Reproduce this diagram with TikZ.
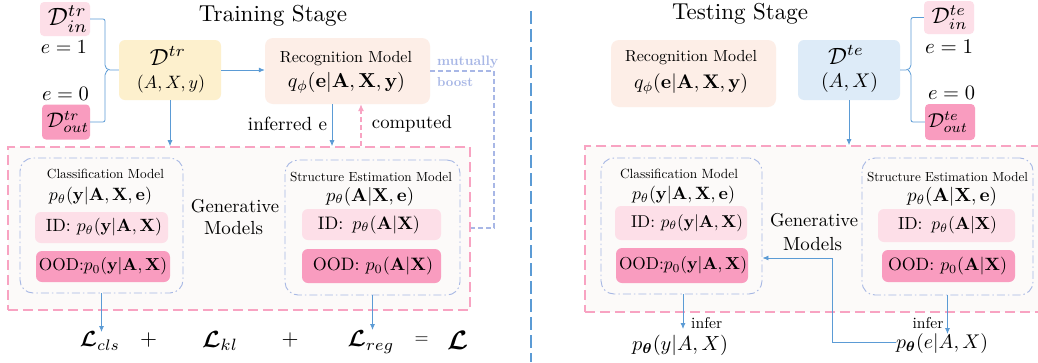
\documentclass[tikz,border=0pt]{standalone}
\usepackage{amsmath,bm,graphicx}
\usepackage{fontspec}
\setmainfont{lmroman10-regular.otf}[BoldFont=lmroman10-bold.otf, ItalicFont=lmroman10-italic.otf, BoldItalicFont=lmroman10-bolditalic.otf]
\usetikzlibrary{arrows.meta}
\newcommand{\fw}[2]{\resizebox{#1pt}{!}{#2}}
\definecolor{lpink}{HTML}{FDDFE8}
\definecolor{dpink}{HTML}{F99CBF}
\definecolor{ylw}{HTML}{FDF0CD}
\definecolor{peach}{HTML}{FDEEE7}
\definecolor{lblue}{HTML}{DDEBF8}
\definecolor{pborder}{HTML}{F8A3C2}
\definecolor{gborder}{HTML}{A6B7E4}
\definecolor{arrc}{HTML}{5B9BD5}
\definecolor{bgfill}{HTML}{FCFAF9}
\definecolor{boostc}{HTML}{A8B7E6}
\tikzset{
  fbox/.style={rounded corners=6pt, draw=none, inner sep=0pt},
  grp/.style={rounded corners=13pt, draw=gborder, line width=0.9pt, dash pattern=on 8pt off 3pt on 1.5pt off 3pt},
  bigbox/.style={draw=pborder, fill=bgfill, line width=1.6pt, dash pattern=on 10pt off 5pt, inner sep=0pt},
  txt/.style={inner sep=0pt},
  arr/.style={draw=arrc, line width=0.8pt, -{Latex[length=6pt,width=5pt]}},
  ln/.style={draw=arrc, line width=0.8pt},
  parr/.style={draw=pborder, line width=1.1pt, dash pattern=on 5pt off 3pt, -{Latex[length=7pt,width=6pt]}},
  blin/.style={draw=boostc, line width=1.1pt, dash pattern=on 5pt off 3pt},
}
\begin{document}
\begin{tikzpicture}[x=1pt,y=-1pt]
\clip (0,0) rectangle (1038,362);
\fill[white] (0,0) rectangle (1038,362);

% divider
\draw[draw=arrc, line width=2pt, dash pattern=on 13pt off 5pt] (531,11) -- (531,362);

%%%%%%%%%%%%%%%% LEFT: TRAINING
\node[txt] (title1) at (273,16) {\fw{148}{Training Stage}};

\node[fbox, fill=lpink, minimum width=50, minimum height=34, rounded corners=4pt] (din1) at (65,19) {};
\node[txt] (din1t) at (68,19) {\fw{40}{$\mathcal{D}^{tr}_{in}$}};
\node[txt] (e11) at (64,47) {\fw{46}{$e=1$}};
\node[txt] (e01) at (65.5,94) {\fw{47}{$e=0$}};
\node[fbox, fill=dpink, minimum width=48, minimum height=35, rounded corners=4pt] (dout1) at (66,122) {};
\node[txt] (dout1t) at (68,122) {\fw{42}{$\mathcal{D}^{tr}_{out}$}};

\node[fbox, fill=ylw, minimum width=102, minimum height=60] (dtr) at (170,70) {};
\node[txt] (dtrt) at (168,56) {\fw{36}{$\mathcal{D}^{tr}$}};
\node[txt] (dtrm) at (171,84.5) {\fw{68}{$(A,X,y)$}};

\node[fbox, fill=peach, minimum width=165, minimum height=66, rounded corners=8pt] (rec1) at (347.5,71) {};
\node[txt] (rec1t) at (346,59) {\fw{132}{Recognition Model}};
\node[txt] (rec1m) at (346.5,83) {\fw{117}{$q_\phi(\mathbf{e}|\mathbf{A},\mathbf{X},\mathbf{y})$}};

\node[txt, anchor=west, text=boostc] (mb1) at (437,62) {\fw{61}{\bfseries mutually}};
\node[txt, anchor=west, text=boostc] (mb2) at (437,82) {\fw{36}{\bfseries boost}};

\node[txt] (inf1) at (287.5,124) {\fw{79}{inferred e}};
\node[txt] (comp1) at (412,124) {\fw{80}{computed}};

\node[bigbox, minimum width=462, minimum height=163] (big1) at (239,228.5) {};

\node[grp, minimum width=163, minimum height=135] (cls1) at (101.5,225.5) {};
\node[txt] (cls1t) at (105.5,174) {\fw{117}{Classification Model}};
\node[txt] (cls1m) at (100.5,196.5) {\fw{103}{$p_\theta(\mathbf{y}|\mathbf{A},\mathbf{X},\mathbf{e})$}};
\node[fbox, fill=lpink, minimum width=133, minimum height=31] (cls1id) at (101.5,227.5) {};
\node[txt] (cls1idt) at (104,227.5) {\fw{116}{ID: $p_\theta(\mathbf{y}|\mathbf{A},\mathbf{X})$}};
\node[fbox, fill=dpink, minimum width=134, minimum height=31] (cls1ood) at (103,266.5) {};
\node[txt] (cls1oodt) at (103,266.5) {\fw{128}{OOD:$p_0(\mathbf{y}|\mathbf{A},\mathbf{X})$}};

\node[txt] (gen1a) at (235,206) {\fw{88}{Generative}};
\node[txt] (gen1b) at (233.5,228) {\fw{59}{Models}};

\node[grp, minimum width=175, minimum height=135] (str1) at (372.5,227.5) {};
\node[txt] (str1t) at (371,177) {\fw{162}{Structure Estimation Model}};
\node[txt] (str1m) at (370,196.5) {\fw{88}{$p_\theta(\mathbf{A}|\mathbf{X},\mathbf{e})$}};
\node[fbox, fill=lpink, minimum width=139, minimum height=31] (str1id) at (371.5,224.5) {};
\node[txt] (str1idt) at (369,224.5) {\fw{102}{ID:\enspace$p_\theta(\mathbf{A}|\mathbf{X})$}};
\node[fbox, fill=dpink, minimum width=139, minimum height=34] (str1ood) at (371.5,266) {};
\node[txt] (str1oodt) at (373,266) {\fw{120}{OOD: $p_0(\mathbf{A}|\mathbf{X})$}};

\node[txt] (lcls) at (100,341) {\fw{40}{$\bm{\mathcal{L}}_{cls}$}};
\node[txt] (plus1) at (148.5,340) {\fw{17}{$+$}};
\node[txt] (lkl) at (220,341) {\fw{36}{$\bm{\mathcal{L}}_{kl}$}};
\node[txt] (plus2) at (290,340) {\fw{17}{$+$}};
\node[txt] (lreg) at (371,342) {\fw{47}{$\bm{\mathcal{L}}_{reg}$}};
\node[txt] (eq1) at (421.5,340) {\fw{14}{$=$}};
\node[txt] (lall) at (457.5,340) {\fw{21}{$\bm{\mathcal{L}}$}};

% connectors left
\draw[ln, rounded corners=2pt] (din1.east) -| (105,67) -- (108,70) -- (dtr.west);
\draw[ln, rounded corners=2pt] (dout1.east) -| (105,73) -- (108,70);
\draw[arr] (dtr.east) -- (dtr.east -| rec1.west);
\draw[arr] (dtr.south) -- (dtr.south |- big1.north);
\draw[arr] ([xshift=-15.5pt]rec1.south) -- ([xshift=-15.5pt]rec1.south |- big1.north);
\draw[parr] ([xshift=13.5pt]rec1.south |- big1.north) -- ([xshift=13.5pt]rec1.south);
\coordinate (mbc) at (494,228);
\draw[blin] (rec1.east) -| (mbc) -- (mbc -| big1.east);
\draw[arr] (cls1.south) -- (cls1.south |- 0,332);
\draw[arr] (str1.south) -- (str1.south |- 0,330);

%%%%%%%%%%%%%%%% RIGHT: TESTING
\node[txt] (title2) at (740,14) {\fw{136}{Testing Stage}};

\node[fbox, fill=peach, minimum width=165, minimum height=67, rounded corners=8pt] (rec2) at (693.5,73.5) {};
\node[txt] (rec2t) at (691,58) {\fw{132}{Recognition Model}};
\node[txt] (rec2m) at (691,84) {\fw{114}{$q_\phi(\mathbf{e}|\mathbf{A},\mathbf{X},\mathbf{y})$}};

\node[fbox, fill=lblue, minimum width=102, minimum height=60] (dte) at (849,70) {};
\node[txt] (dtet) at (846,55) {\fw{36}{$\mathcal{D}^{te}$}};
\node[txt] (dtem) at (849.5,82.5) {\fw{57}{$(A,X)$}};

\node[fbox, fill=lpink, minimum width=50, minimum height=33, rounded corners=4pt] (din2) at (949,17.5) {};
\node[txt] (din2t) at (949.5,17.5) {\fw{36}{$\mathcal{D}^{te}_{in}$}};
\node[txt] (e12) at (949,46.5) {\fw{48}{$e=1$}};
\node[txt] (e02) at (951.5,93) {\fw{47}{$e=0$}};
\node[fbox, fill=dpink, minimum width=50, minimum height=36, rounded corners=4pt] (dout2) at (950,122) {};
\node[txt] (dout2t) at (948,122) {\fw{40}{$\mathcal{D}^{te}_{out}$}};

\node[bigbox, minimum width=460, minimum height=166] (big2) at (815,229) {};

\node[grp, minimum width=161, minimum height=136] (cls2) at (681.5,226) {};
\node[txt] (cls2t) at (679,174) {\fw{118}{Classification Model}};
\node[txt] (cls2m) at (683.5,195) {\fw{103}{$p_\theta(\mathbf{y}|\mathbf{A},\mathbf{X},\mathbf{e})$}};
\node[fbox, fill=lpink, minimum width=132, minimum height=34] (cls2id) at (681,223) {};
\node[txt] (cls2idt) at (687,223) {\fw{112}{ID: $p_\theta(\mathbf{y}|\mathbf{A},\mathbf{X})$}};
\node[fbox, fill=dpink, minimum width=132, minimum height=35] (cls2ood) at (682,265.5) {};
\node[txt] (cls2oodt) at (683,265.5) {\fw{128}{OOD:$p_0(\mathbf{y}|\mathbf{A},\mathbf{X})$}};

\node[txt] (gen2a) at (814,220.5) {\fw{88}{Generative}};
\node[txt] (gen2b) at (812.5,244) {\fw{59}{Models}};

\node[grp, minimum width=171, minimum height=137] (str2) at (947.5,226.5) {};
\node[txt] (str2t) at (947.5,177) {\fw{161}{Structure Estimation Model}};
\node[txt] (str2m) at (952,196.5) {\fw{90}{$p_\theta(\mathbf{A}|\mathbf{X},\mathbf{e})$}};
\node[fbox, fill=lpink, minimum width=137, minimum height=33] (str2id) at (946.5,225.5) {};
\node[txt] (str2idt) at (947.5,225.5) {\fw{99}{ID:\enspace$p_\theta(\mathbf{A}|\mathbf{X})$}};
\node[fbox, fill=dpink, minimum width=133, minimum height=32] (str2ood) at (948.5,266) {};
\node[txt] (str2oodt) at (947.5,266) {\fw{119}{OOD: $p_0(\mathbf{A}|\mathbf{X})$}};

\node[txt] (pyax) at (680,345) {\fw{96}{$p_{\bm\theta}(y|A,X)$}};
\node[txt, anchor=west] (infer1) at (691,323) {\fw{31}{infer}};
\node[txt] (peax) at (942,344) {\fw{92}{$p_{\bm\theta}(e|A,X)$}};
\node[txt] (infer2) at (928,323) {\fw{31}{infer}};

% connectors right
\draw[ln, rounded corners=2pt] (dte.east) -- (908,70) -- (911,67) |- (din2.west);
\draw[ln, rounded corners=2pt] (908,70) -- (911,73) |- (dout2.west);
\draw[arr] (dte.south) -- (dte.south |- big2.north);
\draw[arr] ([xshift=1.5pt]cls2.south) -- ([xshift=1.5pt]cls2.south |- 0,329);
\draw[arr] (str2.south) -- (str2.south |- 0,334);
\coordinate (fb) at (832,342);
\draw[arr] (peax.west |- fb) -- (fb) |- ([yshift=-32pt]cls2.east);
\end{tikzpicture}
\end{document}
